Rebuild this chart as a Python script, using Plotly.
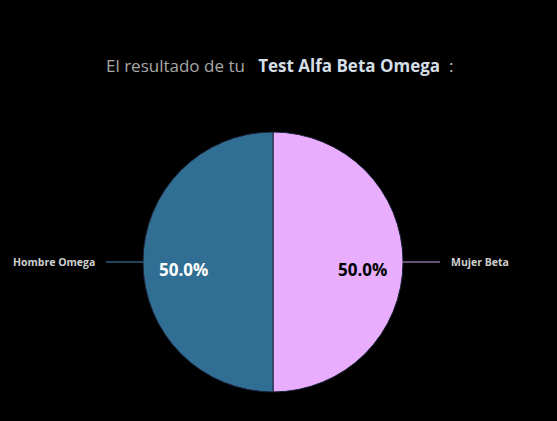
import math
import plotly.graph_objects as go

labels = ["Mujer Beta", "Hombre Omega"]
values = [50, 50]
colors = ["#E8AEFD", "#316E93"]
text_colors = ["#000000", "#FFFFFF"]
line_colors = ["#8C6A9A", "#2B5A78"]

W, H = 557, 421
dom_x = [143 / W, 403 / W]
dom_y = [29 / H, 289 / H]

fig = go.Figure(go.Pie(
    labels=labels,
    values=values,
    sort=False,
    direction="clockwise",
    rotation=0,
    marker=dict(colors=colors, line=dict(color="#1B2238", width=1)),
    textinfo="none",
    hoverinfo="label+percent",
    domain=dict(x=dom_x, y=dom_y),
    showlegend=False,
))

# percentages and outside labels placed around the pie
cx = (dom_x[0] + dom_x[1]) / 2
cy = (dom_y[0] + dom_y[1]) / 2
r_px = (dom_x[1] - dom_x[0]) / 2 * W
total = sum(values)
start = 0.0
for i, name in enumerate(labels):
    frac = values[i] / total
    mid = (start + frac / 2) * 2 * math.pi  # clockwise from top
    start += frac
    dx, dy = math.sin(mid), math.cos(mid)
    # percentage inside
    fig.add_annotation(x=cx + dx * 0.69 * r_px / W, y=cy + (dy * 0.69 * r_px - 7) / H,
                       xref="paper", yref="paper", showarrow=False,
                       xanchor="center", yanchor="middle",
                       text="<b>{:.1f}%</b>".format(frac * 100),
                       font=dict(size=17, color=text_colors[i], family="Open Sans"))
    # leader line + label
    x0 = cx + dx * r_px / W
    x1 = cx + dx * (r_px + 37) / W
    y0 = cy + dy * r_px / H
    fig.add_shape(type="line", xref="paper", yref="paper",
                  x0=x0, x1=x1, y0=y0, y1=y0,
                  line=dict(color=line_colors[i], width=1.5))
    side = 1 if dx > 0 else -1
    fig.add_annotation(x=x1 + side * 9 / W, y=y0, xref="paper", yref="paper",
                       text="<b>" + name + "</b>", showarrow=False,
                       xanchor="left" if side > 0 else "right", yanchor="middle",
                       font=dict(size=10.5, color="#D0D0D0", family="Open Sans"))

fig.add_annotation(
    x=279 / W, y=(H - 66) / H, xref="paper", yref="paper", showarrow=False,
    xanchor="center", yanchor="middle",
    text="<span style='color:#A8A8A8'>El resultado de tu</span>&nbsp;&nbsp;&nbsp;"
         "<b><span style='color:#D4DEE6'>Test Alfa Beta Omega</span></b>&nbsp;&nbsp;"
         "<span style='color:#C8C8C8'>:</span>",
    font=dict(size=17, family="Open Sans"),
)

fig.update_layout(
    width=W, height=H,
    margin=dict(l=0, r=0, t=0, b=0),
    paper_bgcolor="#000000",
    plot_bgcolor="#000000",
    font=dict(family="Open Sans"),
)

fig.write_html("out.html", config={"displayModeBar": False},
               post_script="document.body.style.margin='0';document.body.style.background='#000';")
